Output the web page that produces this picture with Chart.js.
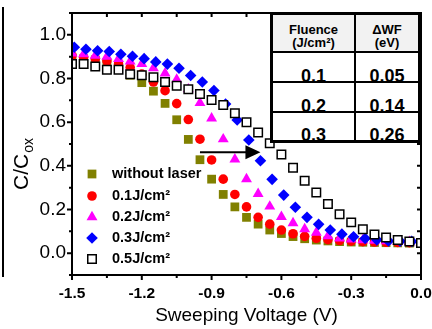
<!DOCTYPE html>
<html>
<head>
<meta charset="utf-8">
<script src="https://cdn.jsdelivr.net/npm/chart.js@4.4.0/dist/chart.umd.min.js"></script>
<style>
  html, body { margin: 0; padding: 0; background: #fff; }
  #wrap { position: relative; width: 432px; height: 329px; overflow: hidden; }
  #edge { position: absolute; left: 2px; top: 7px; width: 2px; height: 270px; background: #000; }
  #tbl {
    position: absolute; left: 270px; top: 12px; width: 151px; height: 131px;
    box-sizing: border-box; border: 3px solid #000; background: #fff; overflow: hidden;
    font-family: Arial, "Liberation Sans", sans-serif; font-weight: bold; color: #000;
  }
  #tbl div { position: absolute; }
  #tbl .bg { left: 0; top: 0; width: 145px; height: 36px; background: #f2f2f2; }
  #tbl .hl { left: 0; width: 145px; height: 2px; background: #000; }
  #tbl .vl { left: 81px; top: 0; width: 2px; height: 125px; background: #000; }
  #tbl .c1 { left: 0; width: 81px; text-align: center; }
  #tbl .c2 { left: 83px; width: 62px; text-align: center; }
  #tbl .hd { top: 8px; font-size: 13px; line-height: 13px; }
  #tbl .num { font-size: 18px; line-height: 20px; height: 20px; }
</style>
</head>
<body>
<div id="wrap">
  <canvas id="cvChart" width="432" height="329"></canvas>
  <div id="edge"></div>
  <div id="tbl">
    <div class="bg"></div>
    <div class="c1 hd">Fluence<br>(J/cm²)</div>
    <div class="c2 hd">ΔWF<br>(eV)</div>
    <div class="c1 num" style="top:51px">0.1</div>
    <div class="c2 num" style="top:51px">0.05</div>
    <div class="c1 num" style="top:81px">0.2</div>
    <div class="c2 num" style="top:81px">0.14</div>
    <div class="c1 num" style="top:110px">0.3</div>
    <div class="c2 num" style="top:110px">0.26</div>
    <div class="hl" style="top:36px"></div>
    <div class="hl" style="top:66px"></div>
    <div class="hl" style="top:96px"></div>
    <div class="vl"></div>
  </div>
</div>
<script>
// Sweep voltages (V)
const voltages = [-1.5, -1.45, -1.4, -1.35, -1.3, -1.25, -1.2, -1.15, -1.1, -1.05, -1.0,
    -0.95, -0.9, -0.85, -0.8, -0.75, -0.7, -0.65, -0.6, -0.55, -0.5,
    -0.45, -0.4, -0.35, -0.3, -0.25, -0.2, -0.15, -0.1, -0.05, 0.0];
// the 0.3 J/cm2 curve was sampled slightly off the others
const voltages03 = [-1.49, -1.44, -1.39, -1.34, -1.29, -1.24, -1.19, -1.14, -1.09, -1.04,
    -0.99, -0.94, -0.89, -0.84, -0.79, -0.74, -0.69, -0.64, -0.59, -0.54,
    -0.49, -0.44, -0.39, -0.34, -0.29, -0.24, -0.19, -0.14, -0.09, -0.04];

// C/Cox values
const noLaser = [0.895, 0.89, 0.885, 0.872, 0.855, 0.815, 0.781, 0.742, 0.686, 0.611, 0.521,
    0.428, 0.339, 0.269, 0.212, 0.164, 0.133, 0.106, 0.09, 0.076, 0.066,
    0.06, 0.056, 0.053, 0.051, 0.05, 0.049, 0.048, 0.047, 0.046, 0.045];
const fluence01 = [0.905, 0.897, 0.89, 0.88, 0.866, 0.85, 0.82, 0.784, 0.744, 0.685, 0.612,
    0.522, 0.427, 0.339, 0.269, 0.212, 0.164, 0.133, 0.106, 0.089, 0.077,
    0.068, 0.062, 0.058, 0.055, 0.053, 0.051, 0.05, 0.049, 0.048, 0.047];
const fluence02 = [0.915, 0.912, 0.905, 0.9, 0.89, 0.879, 0.867, 0.848, 0.824, 0.795, 0.751,
    0.688, 0.618, 0.522, 0.43, 0.339, 0.272, 0.214, 0.166, 0.138, 0.11,
    0.094, 0.078, 0.068, 0.063, 0.06, 0.057, 0.055, 0.053, 0.052, 0.05];
const fluence03 = [0.943, 0.934, 0.927, 0.924, 0.911, 0.902, 0.891, 0.876, 0.866, 0.847,
    0.814, 0.784, 0.745, 0.683, 0.61, 0.518, 0.423, 0.338, 0.266, 0.21,
    0.164, 0.132, 0.106, 0.087, 0.075, 0.067, 0.061, 0.056, 0.055, 0.054];
const fluence05 = [0.866, 0.866, 0.855, 0.84, 0.84, 0.82, 0.815, 0.806, 0.784, 0.767, 0.751,
    0.729, 0.702, 0.679, 0.641, 0.6, 0.553, 0.503, 0.452, 0.391, 0.332,
    0.278, 0.225, 0.178, 0.141, 0.11, 0.086, 0.072, 0.06, 0.053, 0.047];

const seriesNames = ['without laser', '0.1J/cm²', '0.2J/cm²', '0.3J/cm²', '0.5J/cm²'];

// axis ticks
const xTickValues = [-1.5, -1.2, -0.9, -0.6, -0.3, 0.0];
const xMinorValues = [-1.35, -1.05, -0.75, -0.45, -0.15];
const yTickValues = [0.0, 0.2, 0.4, 0.6, 0.8, 1.0];
const yMinorValues = [-0.1, 0.1, 0.3, 0.5, 0.7, 0.9, 1.1];

// sweep direction arrow (data coords)
const arrowFrom = [-0.95, 0.462];
const arrowTo = [-0.69, 0.462];

const FONT = 'Arial, "Liberation Sans", sans-serif';
Chart.defaults.font.family = FONT;
Chart.defaults.color = '#000';

function toPoints(xs, ys) {
    return xs.map((x, i) => ({ x: x, y: ys[i] }));
}

const datasets = [
    { label: seriesNames[0], data: toPoints(voltages, noLaser), pointStyle: 'rect', pointRadius: 6.2,
      backgroundColor: '#808000', borderColor: '#808000', borderWidth: 0, order: 4 },
    { label: seriesNames[1], data: toPoints(voltages, fluence01), pointStyle: 'circle', pointRadius: 4.8,
      backgroundColor: '#ff0000', borderColor: '#ff0000', borderWidth: 0, order: 3 },
    { label: seriesNames[2], data: toPoints(voltages, fluence02), pointStyle: 'triangle', pointRadius: 6.3,
      backgroundColor: '#ff00ff', borderColor: '#ff00ff', borderWidth: 0, order: 2 },
    { label: seriesNames[3], data: toPoints(voltages03, fluence03), pointStyle: 'rectRot', pointRadius: 5.8,
      backgroundColor: '#0000ff', borderColor: '#0000ff', borderWidth: 0, order: 1 },
    { label: seriesNames[4], data: toPoints(voltages, fluence05), pointStyle: 'rect', pointRadius: 6,
      backgroundColor: '#ffffff', borderColor: '#000000', borderWidth: 1.5, order: 0 }
];

// frame, minor ticks, arrow, y title and legend
const decorPlugin = {
    id: 'decor',
    afterDraw(chart) {
        const ctx = chart.ctx;
        const a = chart.chartArea;
        const xs = chart.scales.x, ys = chart.scales.y;
        ctx.save();
        ctx.strokeStyle = '#000';
        ctx.lineWidth = 2;
        ctx.strokeRect(a.left, a.top, a.right - a.left, a.bottom - a.top);

        ctx.beginPath();
        xTickValues.forEach(v => {
            const p = xs.getPixelForValue(v);
            ctx.moveTo(p, a.bottom); ctx.lineTo(p, a.bottom + 5);
            ctx.moveTo(p, a.top); ctx.lineTo(p, a.top + 4);
        });
        xMinorValues.forEach(v => {
            const p = xs.getPixelForValue(v);
            ctx.moveTo(p, a.bottom); ctx.lineTo(p, a.bottom + 3);
            ctx.moveTo(p, a.top); ctx.lineTo(p, a.top + 4);
        });
        yTickValues.forEach(v => {
            const p = ys.getPixelForValue(v);
            ctx.moveTo(a.left, p); ctx.lineTo(a.left - 5, p);
            ctx.moveTo(a.right, p); ctx.lineTo(a.right - 4, p);
        });
        yMinorValues.forEach(v => {
            const p = ys.getPixelForValue(v);
            ctx.moveTo(a.left, p); ctx.lineTo(a.left - 3, p);
            ctx.moveTo(a.right, p); ctx.lineTo(a.right - 4, p);
        });
        ctx.stroke();

        // arrow
        const ax0 = xs.getPixelForValue(arrowFrom[0]), ay = ys.getPixelForValue(arrowFrom[1]);
        const ax1 = xs.getPixelForValue(arrowTo[0]);
        ctx.beginPath();
        ctx.moveTo(ax0, ay); ctx.lineTo(ax1 - 12, ay);
        ctx.stroke();
        ctx.fillStyle = '#000';
        ctx.beginPath();
        ctx.moveTo(ax1, ay); ctx.lineTo(ax1 - 15, ay - 7); ctx.lineTo(ax1 - 15, ay + 7);
        ctx.closePath(); ctx.fill();

        // y title C/Cox
        ctx.translate(28, 190);
        ctx.rotate(-Math.PI / 2);
        ctx.textBaseline = 'alphabetic';
        ctx.textAlign = 'left';
        ctx.font = '21px ' + FONT;
        ctx.fillText('C/C', 0, 0);
        const w = ctx.measureText('C/C').width;
        ctx.font = '14px ' + FONT;
        ctx.fillText('ox', w + 1, 5);
        ctx.restore();

        // legend
        ctx.save();
        const rows = [174, 196, 217, 238, 259];
        chart.data.datasets.forEach((ds, i) => {
            ctx.fillStyle = ds.backgroundColor;
            ctx.strokeStyle = ds.borderColor;
            ctx.lineWidth = ds.borderWidth;
            Chart.helpers.drawPoint(ctx, {
                pointStyle: ds.pointStyle, radius: ds.pointRadius, borderWidth: ds.borderWidth, rotation: 0
            }, 92, rows[i]);
            ctx.fillStyle = '#000';
            ctx.font = 'bold 14.5px ' + FONT;
            ctx.textBaseline = 'middle';
            ctx.textAlign = 'left';
            ctx.fillText(ds.label, 112, rows[i]);
        });
        ctx.restore();
    }
};

const chart = new Chart(document.getElementById('cvChart').getContext('2d'), {
    type: 'scatter',
    data: { datasets: datasets },
    options: {
        responsive: false,
        animation: false,
        layout: { padding: { top: 13, right: 11, left: 0, bottom: 0 } },
        plugins: { legend: { display: false }, tooltip: { enabled: false } },
        scales: {
            x: {
                type: 'linear', min: -1.5, max: 0,
                afterBuildTicks: s => { s.ticks = xTickValues.map(v => ({ value: v })); },
                afterFit: s => { s.height = 54; s.paddingLeft = 0; s.paddingRight = 0; },
                grid: { display: false, drawTicks: false },
                border: { display: false },
                ticks: {
                    font: { size: 15.5, weight: 'bold' }, color: '#000', padding: 9,
                    maxRotation: 0, autoSkip: false,
                    callback: v => v.toFixed(1)
                },
                title: {
                    display: true, text: 'Sweeping Voltage (V)', color: '#000',
                    font: { size: 19 }, padding: { top: 0, bottom: 2 }
                }
            },
            y: {
                type: 'linear', min: -0.1, max: 1.1,
                afterBuildTicks: s => { s.ticks = yTickValues.map(v => ({ value: v })); },
                afterFit: s => { s.width = 72; s.paddingTop = 0; s.paddingBottom = 0; },
                grid: { display: false, drawTicks: false },
                border: { display: false },
                ticks: {
                    font: { size: 19 }, color: '#000', padding: 6,
                    callback: v => v.toFixed(1)
                }
            }
        }
    },
    plugins: [decorPlugin]
});
</script>
</body>
</html>
